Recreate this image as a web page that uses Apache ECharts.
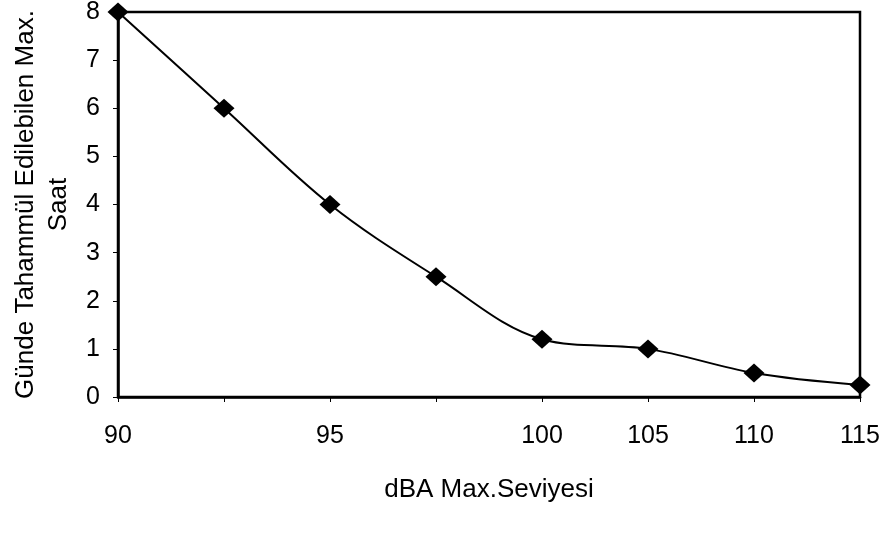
<!DOCTYPE html>
<html>
<head>
<meta charset="utf-8">
<script src="https://cdn.jsdelivr.net/npm/echarts@6/dist/echarts.min.js"></script>
<style>
  html, body { margin: 0; padding: 0; background: #fff; }
  #chart { width: 886px; height: 533px; }
</style>
</head>
<body>
<div id="chart"></div>
<script>
// dBA levels (category positions) and max hours per day
var levels = ['90', '92.5', '95', '97.5', '100', '105', '110', '115'];
var tickLabels = ['90', '', '95', '', '100', '105', '110', '115'];
var hours = [8, 6, 4, 2.5, 1.2, 1, 0.5, 0.25];

var yTitle = 'Günde Tahammül Edilebilen Max.\nSaat';
var xTitle = 'dBA Max.Seviyesi';

var font = 'Liberation Sans, Arial, sans-serif';
var chart = echarts.init(document.getElementById('chart'));

chart.setOption({
    backgroundColor: '#fff',
    animation: false,
    grid: {
        left: 118, right: 26, top: 12, bottom: 136,
        containLabel: false,
        outerBoundsMode: 'none',
        show: true,
        borderColor: '#000',
        borderWidth: 2.5
    },
    xAxis: {
        type: 'category',
        data: levels,
        boundaryGap: false,
        axisLine: { lineStyle: { color: '#000', width: 2.5 } },
        axisTick: { show: true, length: 5, alignWithLabel: true, lineStyle: { color: '#000' } },
        axisLabel: {
            interval: 0,
            margin: 27,
            color: '#000',
            fontFamily: font,
            fontSize: 25,
            formatter: function (v, i) { return tickLabels[i]; }
        },
        splitLine: { show: false },
        name: xTitle,
        nameLocation: 'middle',
        nameGap: 80,
        nameTextStyle: { color: '#000', fontFamily: font, fontSize: 26 }
    },
    yAxis: {
        type: 'value',
        min: 0, max: 8, interval: 1,
        axisLine: { show: true, lineStyle: { color: '#000', width: 2.5 } },
        axisTick: { show: true, length: 5, lineStyle: { color: '#000' } },
        axisLabel: {
            margin: 18,
            color: '#000',
            fontFamily: font,
            fontSize: 25
        },
        splitLine: { show: false },
        name: yTitle,
        nameLocation: 'middle',
        nameRotate: 90,
        nameGap: 43,
        nameTextStyle: {
            color: '#000',
            fontFamily: font,
            fontSize: 26,
            lineHeight: 33,
            align: 'center'
        }
    },
    series: [{
        type: 'line',
        data: hours,
        smooth: 0.35,
        symbol: 'diamond',
        symbolSize: [21, 19],
        itemStyle: { color: '#000' },
        lineStyle: { color: '#000', width: 2 }
    }]
});
</script>
</body>
</html>
